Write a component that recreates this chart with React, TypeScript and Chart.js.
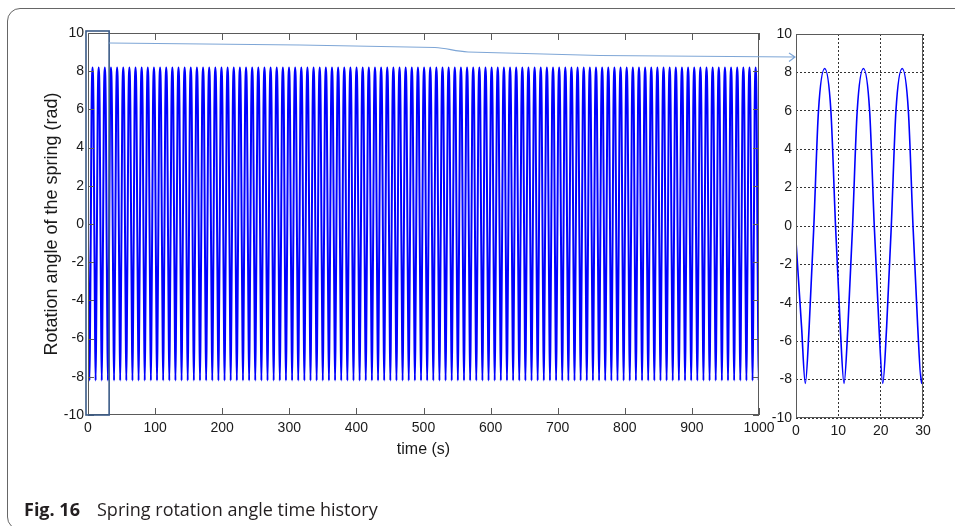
import { useEffect, useRef } from "react";
import { Chart, registerables } from "chart.js";

Chart.register(...registerables);

// ---- tick labels ----
const mainXTicks = [0, 100, 200, 300, 400, 500, 600, 700, 800, 900, 1000];
const yTicks = [-10, -8, -6, -4, -2, 0, 2, 4, 6, 8, 10];
const insetXTicks = [0, 10, 20, 30];

// ---- zoomed panel (0–30 s) ----
const insetTimes = [0, 1.3, 2.2, 3.12, 4.21, 5.31, 6.78, 8.24, 9.34, 10.44, 11.35, 12.27, 13.36, 14.46, 15.93, 17.39, 18.49, 19.59, 20.5, 21.42, 22.51, 23.61, 25.08, 26.54, 27.64, 28.74, 29.65, 30];
const insetValues = [-0.8, -5.2, -8.2, -5.2, 0, 6.0, 8.2, 6.0, 0, -5.2, -8.2, -5.2, 0, 6.0, 8.2, 6.0, 0, -5.2, -8.2, -5.2, 0, 6.0, 8.2, 6.0, 0, -5.2, -8.2, -7.4];

// ---- one oscillation cycle (trough to trough) as seen in the zoomed panel ----
const cyclePhases = [0, 0.1, 0.22, 0.34, 0.5, 0.66, 0.78, 0.9];
const cycleValues = [-8.2, -5.2, 0, 6.0, 8.2, 6.0, 0, -5.2];
const cyclePeriod = 9.15; // s
const firstTrough = 2.2; // s
const startValue = -0.8;
const endTime = 1000;

const FONT = "'Liberation Sans', Arial, sans-serif";
const TEXT = "#1a1a1a";
const FRAME = "#5a5a5a";

function buildMainPoints() {
  const pts: { x: number; y: number }[] = [{ x: 0, y: startValue }];
  for (let k = 0; firstTrough + k * cyclePeriod <= endTime + cyclePeriod; k++) {
    const t0 = firstTrough + k * cyclePeriod;
    for (let i = 0; i < cyclePhases.length; i++) {
      pts.push({ x: t0 + cyclePhases[i] * cyclePeriod, y: cycleValues[i] });
    }
  }
  return pts;
}

const mainDecor = {
  id: "mainDecor",
  afterDraw(chart: any) {
    const { ctx, chartArea: a, scales } = chart;
    const x = scales.x;
    const y = scales.y;
    ctx.save();
    ctx.strokeStyle = FRAME;
    ctx.lineWidth = 1;
    ctx.strokeRect(a.left + 0.5, a.top + 0.5, a.right - a.left - 1, a.bottom - a.top - 1);
    ctx.beginPath();
    for (const v of mainXTicks) {
      const px = Math.round(x.getPixelForValue(v)) + 0.5;
      ctx.moveTo(px, a.bottom);
      ctx.lineTo(px, a.bottom - 7);
      ctx.moveTo(px, a.top);
      ctx.lineTo(px, a.top + 7);
    }
    for (const v of yTicks) {
      const py = Math.round(y.getPixelForValue(v)) + 0.5;
      ctx.moveTo(a.left, py);
      ctx.lineTo(a.left + 6, py);
      ctx.moveTo(a.right, py);
      ctx.lineTo(a.right - 6, py);
    }
    ctx.stroke();
    // highlight box around the zoomed range
    const hx0 = x.getPixelForValue(insetXTicks[0]) - 2;
    const hx1 = x.getPixelForValue(insetXTicks[insetXTicks.length - 1]) + 1;
    const hy0 = y.getPixelForValue(yTicks[yTicks.length - 1]) - 2;
    const hy1 = y.getPixelForValue(yTicks[0]);
    ctx.strokeStyle = "#3a5a86";
    ctx.lineWidth = 1.6;
    ctx.strokeRect(hx0, hy0, hx1 - hx0, hy1 - hy0);
    // connector arrow
    ctx.strokeStyle = "#7ea6d6";
    ctx.lineWidth = 1.2;
    ctx.beginPath();
    ctx.moveTo(hx1, 43);
    ctx.lineTo(300, 45);
    ctx.lineTo(435, 47.5);
    ctx.bezierCurveTo(447, 48, 455, 51.5, 468, 52);
    ctx.lineTo(600, 55.5);
    ctx.lineTo(795, 57);
    ctx.moveTo(789, 53);
    ctx.lineTo(795, 57);
    ctx.lineTo(789, 61.5);
    ctx.stroke();
    ctx.restore();
  },
};

const insetDecor = {
  id: "insetDecor",
  afterDraw(chart: any) {
    const { ctx, chartArea: a } = chart;
    ctx.save();
    ctx.strokeStyle = FRAME;
    ctx.lineWidth = 1;
    ctx.strokeRect(a.left + 0.5, a.top + 0.5, a.right - a.left - 1, a.bottom - a.top - 1);
    ctx.restore();
  },
};

const plainLabel = (v: any) => String(v);

export default function App() {
  const mainRef = useRef<HTMLCanvasElement>(null);
  const insetRef = useRef<HTMLCanvasElement>(null);

  useEffect(() => {
    const tickFont = { family: FONT, size: 14 };
    const main = new Chart(mainRef.current!, {
      type: "line",
      data: {
        datasets: [
          {
            data: buildMainPoints(),
            borderColor: "#0000ff",
            borderWidth: 2,
            pointRadius: 0,
            cubicInterpolationMode: "monotone",
            fill: false,
          },
        ],
      },
      options: {
        responsive: false,
        animation: false,
        events: [],
        layout: { padding: { left: 0, top: 33, right: 196, bottom: 61 } },
        plugins: { legend: { display: false }, tooltip: { enabled: false } },
        scales: {
          x: {
            type: "linear",
            min: 0,
            max: 1000,
            afterBuildTicks: (s: any) => {
              s.ticks = mainXTicks.map((v) => ({ value: v }));
            },
            afterFit: (s: any) => {
              s.height = 50;
            },
            grid: { display: false, drawTicks: false, tickLength: 0 },
            border: { display: false },
            ticks: { color: TEXT, font: tickFont, padding: 5, maxRotation: 0, autoSkip: false, callback: plainLabel },
            title: {
              display: true,
              text: "time (s)",
              color: TEXT,
              font: { family: FONT, size: 16 },
              padding: { top: 0, bottom: 6 },
            },
          },
          y: {
            type: "linear",
            min: -10,
            max: 10,
            afterBuildTicks: (s: any) => {
              s.ticks = yTicks.map((v) => ({ value: v }));
            },
            afterFit: (s: any) => {
              s.width = 88;
            },
            grid: { display: false, drawTicks: false, tickLength: 0 },
            border: { display: false },
            ticks: { color: TEXT, font: tickFont, padding: 4, autoSkip: false, callback: plainLabel },
            title: {
              display: true,
              text: "Rotation angle of the spring (rad)",
              color: TEXT,
              font: { family: FONT, size: 18 },
              padding: { top: 41, bottom: 0 },
            },
          },
        },
      },
      plugins: [mainDecor],
    } as any);

    const inset = new Chart(insetRef.current!, {
      type: "line",
      data: {
        datasets: [
          {
            data: insetTimes.map((t, i) => ({ x: t, y: insetValues[i] })),
            borderColor: "#0000ff",
            borderWidth: 1.6,
            pointRadius: 0,
            cubicInterpolationMode: "monotone",
            fill: false,
          },
        ],
      },
      options: {
        responsive: false,
        animation: false,
        events: [],
        layout: { padding: { left: 0, top: 34, right: 32, bottom: 68 } },
        plugins: { legend: { display: false }, tooltip: { enabled: false } },
        scales: {
          x: {
            type: "linear",
            min: 0,
            max: 30,
            afterBuildTicks: (s: any) => {
              s.ticks = insetXTicks.map((v) => ({ value: v }));
            },
            afterFit: (s: any) => {
              s.height = 40;
            },
            grid: { display: true, drawTicks: false, tickLength: 0, color: "#333", lineWidth: 1 },
            border: { display: false, dash: [2, 2] },
            ticks: { color: TEXT, font: tickFont, padding: 5, maxRotation: 0, autoSkip: false, callback: plainLabel },
          },
          y: {
            type: "linear",
            min: -10,
            max: 10,
            afterBuildTicks: (s: any) => {
              s.ticks = yTicks.map((v) => ({ value: v }));
            },
            afterFit: (s: any) => {
              s.width = 56;
            },
            grid: { display: true, drawTicks: false, tickLength: 0, color: "#333", lineWidth: 1 },
            border: { display: false, dash: [2, 2] },
            ticks: { color: TEXT, font: tickFont, padding: 4, autoSkip: false, callback: plainLabel },
          },
        },
      },
      plugins: [insetDecor],
    } as any);

    return () => {
      main.destroy();
      inset.destroy();
    };
  }, []);

  const captionBase = {
    position: "absolute" as const,
    top: 498,
    fontFamily: "'Open Sans', 'Noto Sans', sans-serif",
    fontSize: 18,
    lineHeight: "22px",
    color: "#231f20",
    whiteSpace: "nowrap" as const,
  };

  return (
    <div
      style={{
        position: "fixed",
        left: 0,
        top: 0,
        width: 955,
        height: 526,
        overflow: "hidden",
        background: "#fff",
      }}
    >
      <div
        style={{
          position: "absolute",
          left: 7,
          top: 8,
          width: 1000,
          height: 522,
          border: "1px solid #666",
          borderRadius: 13,
          boxSizing: "border-box",
        }}
      />
      <canvas
        ref={mainRef}
        width={955}
        height={526}
        style={{ position: "absolute", left: 0, top: 0, display: "block" }}
      />
      <canvas
        ref={insetRef}
        width={215}
        height={526}
        style={{ position: "absolute", left: 740, top: 0, display: "block" }}
      />
      <div style={{ ...captionBase, left: 24, fontWeight: 700 }}>Fig. 16</div>
      <div style={{ ...captionBase, left: 97 }}>Spring rotation angle time history</div>
    </div>
  );
}
